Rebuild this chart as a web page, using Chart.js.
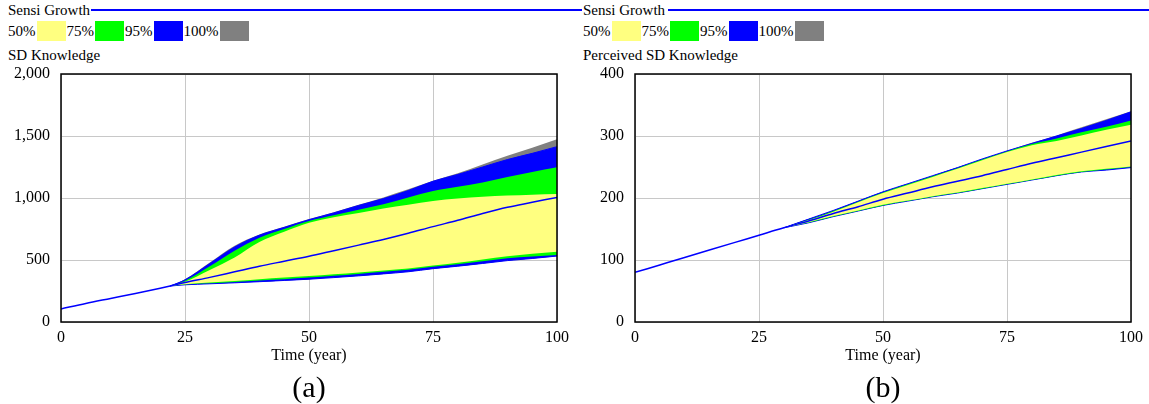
<!DOCTYPE html>
<html>
<head>
<meta charset="utf-8">
<script src="https://cdn.jsdelivr.net/npm/chart.js@4/dist/chart.umd.min.js"></script>
<style>
  body { margin: 0; background: #fff; font-family: "Liberation Serif", Tinos, "Times New Roman", Times, serif; color: #000; }
  #page { position: relative; width: 1149px; height: 404px; overflow: hidden; }
  .head { position: absolute; top: 1px; font-size: 15px; line-height: 18px; white-space: nowrap; }
  .rule { position: absolute; top: 9px; height: 1.5px; background: #0000ff; }
  .legend { position: absolute; top: 21px; font-size: 15px; line-height: 20px; display: flex; align-items: center; white-space: nowrap; }
  .legend .sw { display: inline-block; width: 29px; height: 20px; margin: 0 1px 0 1px; box-sizing: border-box; }
  .vname { position: absolute; top: 46px; font-size: 15px; line-height: 18px; white-space: nowrap; }
  .cap { position: absolute; top: 369px; font-size: 30px; line-height: 36px; width: 80px; text-align: center; }
  canvas { position: absolute; }
</style>
</head>
<body>
<div id="page">
  <div class="head" style="left:8px">Sensi Growth</div>
  <div class="rule" style="left:91px;width:491px"></div>
  <div class="legend" style="left:8px" id="legA"></div>
  <div class="vname" style="left:8px">SD Knowledge</div>

  <div class="head" style="left:583px">Sensi Growth</div>
  <div class="rule" style="left:668px;width:481px"></div>
  <div class="legend" style="left:583px" id="legB"></div>
  <div class="vname" style="left:583px">Perceived SD Knowledge</div>

  <div style="position:absolute;left:0;top:62px;width:575px;height:308px"><canvas id="chartA"></canvas></div>
  <div style="position:absolute;left:574px;top:62px;width:575px;height:308px"><canvas id="chartB"></canvas></div>

  <div class="cap" style="left:269px">(a)</div>
  <div class="cap" style="left:843px">(b)</div>
</div>
<script>
// legend
const bandLabels = ['50%', '75%', '95%', '100%'];
const bandColors = ['#ffff80', '#00ff00', '#0000ff', '#808080'];

// ---- panel (a): SD Knowledge ----
const timeA = [0, 5, 10, 15, 20, 22, 25, 30, 35, 40, 45, 50, 55, 60, 65, 70, 75, 80, 85, 90, 95, 100];
const midA = [105, 150, 190, 230, 272, 290, 318, 360, 405, 450, 490, 530, 575, 620, 665, 715, 769, 820, 875, 925, 965, 1005];

const bandTimeA = [22, 25, 30, 35, 40, 45, 50, 55, 60, 65, 70, 75, 80, 85, 90, 95, 100];
const grayHiA   = [290, 345, 480, 615, 705, 768, 830, 885, 945, 1005, 1070, 1140, 1200, 1270, 1340, 1405, 1473];
const blueHiA   = [290, 340, 472, 605, 700, 763, 825, 880, 940, 995, 1060, 1135, 1190, 1250, 1310, 1360, 1414];
const greenHiA  = [290, 333, 450, 575, 680, 750, 815, 860, 905, 950, 1005, 1056, 1090, 1125, 1170, 1210, 1247];
const yellowHiA = [290, 325, 420, 520, 645, 728, 800, 845, 880, 915, 945, 976, 995, 1010, 1020, 1027, 1032];
const yellowLoA = [290, 305, 318, 330, 345, 358, 370, 385, 400, 415, 432, 455, 478, 505, 530, 550, 567];
const greenLoA  = [290, 302, 312, 322, 335, 345, 358, 372, 388, 405, 422, 445, 465, 490, 515, 528, 540];
const blueLoA   = [290, 300, 308, 316, 325, 335, 345, 358, 372, 388, 405, 430, 450, 472, 495, 512, 532];
const grayLoA   = [290, 300, 308, 316, 325, 335, 345, 358, 372, 388, 405, 430, 450, 472, 495, 512, 531];
const yTicksA = [0, 500, 1000, 1500, 2000];

// ---- panel (b): Perceived SD Knowledge ----
const timeB = [0, 5, 10, 15, 20, 25, 30, 35, 40, 45, 50, 55, 60, 65, 70, 75, 80, 85, 90, 95, 100];
const midB = [80, 92, 104, 116, 128, 140, 152, 163, 175, 186, 198, 208, 218, 227, 236, 246, 256, 265, 274, 283, 292];

const bandTimeB = [30, 35, 40, 45, 50, 55, 60, 65, 70, 75, 80, 85, 90, 95, 100];
const grayHiB   = [152, 166, 180, 195, 210, 223, 236, 249, 263, 276, 289, 301, 314, 327, 340];
const blueHiB   = [152, 166, 180, 195, 210, 223, 236, 249, 263, 276, 288, 300, 312, 325, 339];
const greenHiB  = [152, 165, 179, 194, 209, 222, 235, 248, 262, 275, 287, 296, 306, 315, 325];
const yellowHiB = [152, 164, 178, 193, 208, 221, 234, 247, 261, 274, 285, 292, 301, 310, 318];
const yellowLoB = [152, 161, 171, 180, 189, 196, 203, 209, 216, 223, 230, 237, 243, 247, 251];
const greenLoB  = [152, 160, 170, 179, 188, 195, 202, 208, 215, 222, 229, 236, 242, 246, 250];
const blueLoB   = [152, 160, 170, 179, 188, 195, 202, 208, 215, 222, 229, 236, 242, 245, 249];
const grayLoB   = [152, 160, 170, 179, 188, 195, 202, 208, 215, 222, 229, 236, 242, 245, 249];
const yTicksB = [0, 100, 200, 300, 400];

const xTicks = [0, 25, 50, 75, 100];

function buildLegend(id) {
    const el = document.getElementById(id);
    bandLabels.forEach((label, i) => {
        const t = document.createElement('span');
        t.textContent = label;
        const sw = document.createElement('span');
        sw.className = 'sw';
        sw.style.background = bandColors[i];
        el.appendChild(t);
        el.appendChild(sw);
    });
}
buildLegend('legA');
buildLegend('legB');

function pts(xs, ys) {
    return ys.map((y, i) => ({ x: xs[i], y: y }));
}

function bandPair(xs, hi, lo, color, edge) {
    const common = { backgroundColor: color, borderColor: '#0000ff', borderWidth: edge ? 1 : 0, pointRadius: 0, cubicInterpolationMode: 'monotone' };
    return [
        Object.assign({ data: pts(xs, hi), fill: '+1' }, common),
        Object.assign({ data: pts(xs, lo), fill: false }, common)
    ];
}

// black frame round the plot area
const framePlugin = {
    id: 'frame',
    afterDraw(chart) {
        const a = chart.chartArea;
        const ctx = chart.ctx;
        ctx.save();
        ctx.strokeStyle = '#000';
        ctx.lineWidth = 1.5;
        ctx.strokeRect(a.left, a.top, a.right - a.left, a.bottom - a.top);
        ctx.restore();
    }
};

function makeChart(canvasId, cfg) {
    const font = { family: '"Liberation Serif", Tinos, "Times New Roman", Times, serif', size: 16 };
    const datasets = [
        { data: pts(cfg.time, cfg.mid), borderColor: '#0000ff', borderWidth: 1.5, fill: false, pointRadius: 0, cubicInterpolationMode: 'monotone' }
    ]
        .concat(bandPair(cfg.bandTime, cfg.yellowHi, cfg.yellowLo, bandColors[0], false))
        .concat(bandPair(cfg.bandTime, cfg.greenHi, cfg.greenLo, bandColors[1], false))
        .concat(bandPair(cfg.bandTime, cfg.blueHi, cfg.blueLo, bandColors[2], true))
        .concat(bandPair(cfg.bandTime, cfg.grayHi, cfg.grayLo, bandColors[3], false));

    return new Chart(document.getElementById(canvasId), {
        type: 'line',
        data: { datasets: datasets },
        options: {
            responsive: true,
            maintainAspectRatio: false,
            animation: false,
            layout: { padding: { top: 12, right: 18, left: 0, bottom: 0 } },
            plugins: { legend: { display: false }, tooltip: { enabled: false } },
            scales: {
                x: {
                    type: 'linear',
                    min: 0,
                    max: 100,
                    afterBuildTicks: s => { s.ticks = xTicks.map(v => ({ value: v })); },
                    afterFit: s => { s.height = 48; },
                    grid: { color: '#c8c8c8', lineWidth: 1, drawTicks: false },
                    border: { display: false },
                    ticks: { color: '#000', font: font, padding: 6, maxRotation: 0 },
                    title: { display: true, text: 'Time (year)', color: '#000', font: font, padding: { top: 0, bottom: 5 } }
                },
                y: {
                    type: 'linear',
                    min: 0,
                    max: cfg.yTicks[cfg.yTicks.length - 1],
                    afterBuildTicks: s => { s.ticks = cfg.yTicks.map(v => ({ value: v })); },
                    afterFit: s => { s.width = 61; s.paddingTop = 0; s.paddingBottom = 0; },
                    grid: { color: '#c8c8c8', lineWidth: 1, drawTicks: false },
                    border: { display: false },
                    ticks: { color: '#000', font: font, padding: 11, callback: v => Number(v).toLocaleString('en-US') }
                }
            }
        },
        plugins: [framePlugin]
    });
}

makeChart('chartA', {
    time: timeA, mid: midA, bandTime: bandTimeA,
    grayHi: grayHiA, blueHi: blueHiA, greenHi: greenHiA, yellowHi: yellowHiA,
    yellowLo: yellowLoA, greenLo: greenLoA, blueLo: blueLoA, grayLo: grayLoA,
    yTicks: yTicksA
});

makeChart('chartB', {
    time: timeB, mid: midB, bandTime: bandTimeB,
    grayHi: grayHiB, blueHi: blueHiB, greenHi: greenHiB, yellowHi: yellowHiB,
    yellowLo: yellowLoB, greenLo: greenLoB, blueLo: blueLoB, grayLo: grayLoB,
    yTicks: yTicksB
});
</script>
</body>
</html>
